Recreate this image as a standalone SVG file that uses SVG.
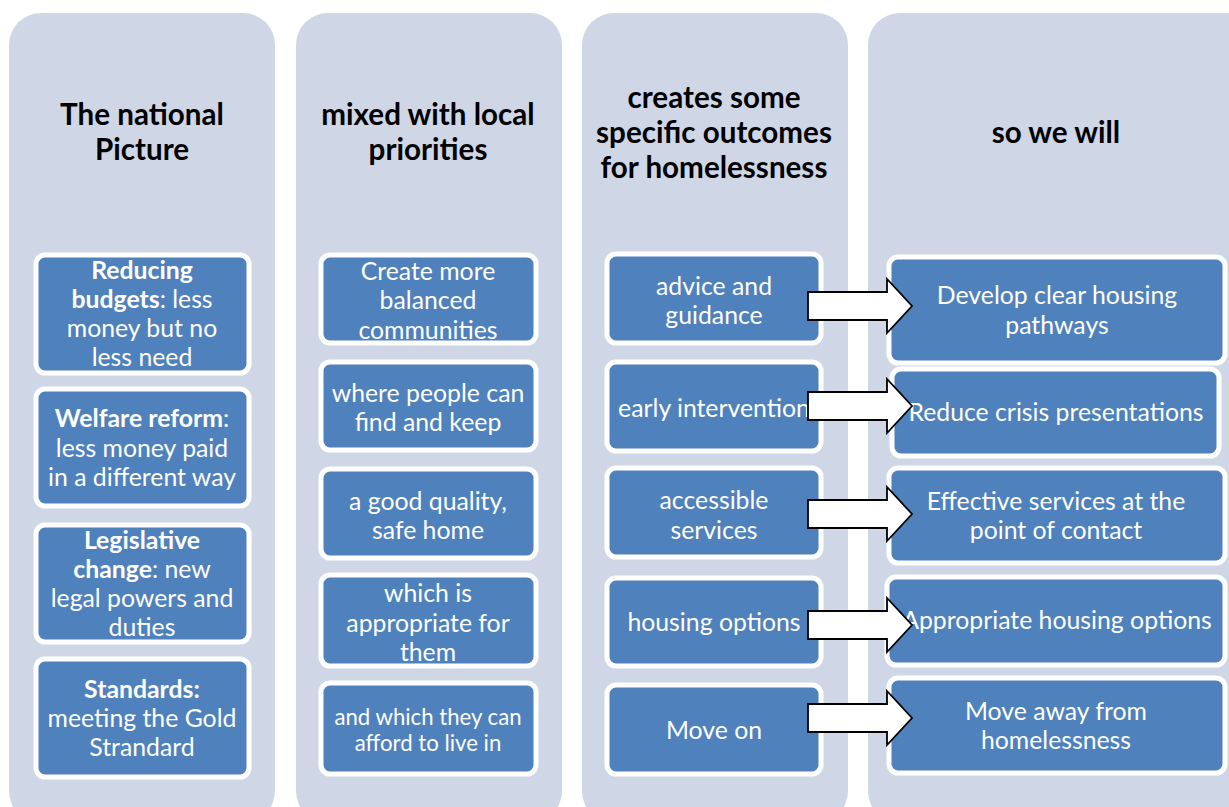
<svg xmlns="http://www.w3.org/2000/svg" width="1229" height="807" viewBox="0 0 1229 807">
<style>
.col{fill:#CFD7E7;}
.box{fill:#4F81BD;stroke:#FFFFFF;stroke-width:5;}
.hd{font-family:Lato,"Open Sans",sans-serif;font-weight:bold;font-size:29.6px;fill:#000;text-anchor:middle;}
.t{font-family:Lato,"Open Sans",sans-serif;font-size:24.8px;fill:#FFFFFF;text-anchor:middle;}
.s{font-size:22.2px;}
.b{font-weight:bold;}
.arr{fill:#FFFFFF;stroke:#000000;stroke-width:1.8;stroke-linejoin:miter;}
</style>
<defs>
<path id="ar" d="M0,-14 L79,-14 L79,-27 L104,0 L79,27 L79,14 L0,14 Z"/>
</defs>
<rect width="1229" height="807" fill="#FFFFFF"/>
<g id="column-national">
<rect class="col" x="9" y="13" width="266" height="810" rx="32"/>
<text class="hd" x="142" y="125">The national</text>
<text class="hd" x="142" y="160">Picture</text>
</g>
<g id="column-local">
<rect class="col" x="296" y="13" width="266" height="810" rx="32"/>
<text class="hd" x="428" y="125">mixed with local</text>
<text class="hd" x="428" y="160">priorities</text>
</g>
<g id="column-outcomes">
<rect class="col" x="582" y="13" width="266" height="810" rx="32"/>
<text class="hd" x="714" y="108">creates some</text>
<text class="hd" x="714" y="143">specific outcomes</text>
<text class="hd" x="714" y="178">for homelessness</text>
</g>
<g id="column-will">
<rect class="col" x="868" y="13" width="420" height="810" rx="32"/>
<text class="hd" x="1056" y="143">so we will</text>
</g>

<g id="n-budgets">
<rect class="box" x="36" y="255" width="213" height="118" rx="9"/>
<text class="t" x="142" y="279"><tspan class="b">Reducing</tspan></text>
<text class="t" x="142" y="308"><tspan class="b">budgets</tspan>: less</text>
<text class="t" x="142" y="337">money but no</text>
<text class="t" x="142" y="366">less need</text>
</g>
<g id="n-welfare">
<rect class="box" x="36" y="389" width="213" height="117" rx="9"/>
<text class="t" x="142" y="427"><tspan class="b">Welfare reform</tspan>:</text>
<text class="t" x="142" y="457">less money paid</text>
<text class="t" x="142" y="486">in a different way</text>
</g>
<g id="n-legislative">
<rect class="box" x="36" y="525" width="213" height="117" rx="9"/>
<text class="t" x="142" y="549"><tspan class="b">Legislative</tspan></text>
<text class="t" x="142" y="578"><tspan class="b">change</tspan>: new</text>
<text class="t" x="142" y="607">legal powers and</text>
<text class="t" x="142" y="636">duties</text>
</g>
<g id="n-standards">
<rect class="box" x="36" y="659" width="213" height="118" rx="9"/>
<text class="t" x="142" y="698"><tspan class="b">Standards:</tspan></text>
<text class="t" x="142" y="727">meeting the Gold</text>
<text class="t" x="142" y="756">Strandard</text>
</g>

<g id="n-balanced">
<rect class="box" x="321" y="255" width="215" height="88" rx="9"/>
<text class="t" x="428" y="280">Create more</text>
<text class="t" x="428" y="309">balanced</text>
<text class="t" x="428" y="339">communities</text>
</g>
<g id="n-findkeep">
<rect class="box" x="321" y="362" width="215" height="88" rx="9"/>
<text class="t" x="428" y="402">where people can</text>
<text class="t" x="428" y="431">find and keep</text>
</g>
<g id="n-quality">
<rect class="box" x="321" y="469" width="215" height="89" rx="9"/>
<text class="t" x="428" y="510">a good quality,</text>
<text class="t" x="428" y="539">safe home</text>
</g>
<g id="n-appropriate">
<rect class="box" x="321" y="575" width="215" height="91" rx="9"/>
<text class="t" x="428" y="602">which is</text>
<text class="t" x="428" y="632">appropriate for</text>
<text class="t" x="428" y="661">them</text>
</g>
<g id="n-afford">
<rect class="box" x="321" y="683" width="215" height="91" rx="9"/>
<text class="t s" x="428" y="725">and which they can</text>
<text class="t s" x="428" y="751">afford to live in</text>
</g>

<g id="n-advice">
<rect class="box" x="607" y="254" width="214" height="89" rx="9"/>
<text class="t" x="714" y="295">advice and</text>
<text class="t" x="714" y="324">guidance</text>
</g>
<g id="n-early">
<rect class="box" x="607" y="362" width="214" height="89" rx="9"/>
<text class="t" x="714" y="417">early intervention</text>
</g>
<g id="n-accessible">
<rect class="box" x="607" y="468" width="214" height="89" rx="9"/>
<text class="t" x="714" y="509">accessible</text>
<text class="t" x="714" y="539">services</text>
</g>
<g id="n-housing">
<rect class="box" x="607" y="578" width="214" height="88" rx="9"/>
<text class="t" x="714" y="631">housing options</text>
</g>
<g id="n-moveon">
<rect class="box" x="607" y="685" width="214" height="89" rx="9"/>
<text class="t" x="714" y="739">Move on</text>
</g>

<g id="n-pathways">
<rect class="box" x="889" y="257" width="336" height="106" rx="9"/>
<text class="t" x="1057" y="304">Develop clear housing</text>
<text class="t" x="1057" y="334">pathways</text>
</g>
<g id="n-crisis">
<rect class="box" x="892" y="369" width="327" height="87" rx="9"/>
<text class="t" x="1056" y="421">Reduce crisis presentations</text>
</g>
<g id="n-effective">
<rect class="box" x="889" y="468" width="336" height="95" rx="9"/>
<text class="t" x="1056" y="510">Effective services at the</text>
<text class="t" x="1056" y="539">point of contact</text>
</g>
<g id="n-options">
<rect class="box" x="887" y="577" width="338" height="88" rx="9"/>
<text class="t" x="1057" y="629">Appropriate housing options</text>
</g>
<g id="n-moveaway">
<rect class="box" x="889" y="678" width="336" height="95" rx="9"/>
<text class="t" x="1056" y="720">Move away from</text>
<text class="t" x="1056" y="749">homelessness</text>
</g>

<g id="connectors">
<use href="#ar" class="arr" transform="translate(808,306)"/>
<use href="#ar" class="arr" transform="translate(808,406)"/>
<use href="#ar" class="arr" transform="translate(808,514)"/>
<use href="#ar" class="arr" transform="translate(808,625)"/>
<use href="#ar" class="arr" transform="translate(808,718)"/>
</g>
</svg>
